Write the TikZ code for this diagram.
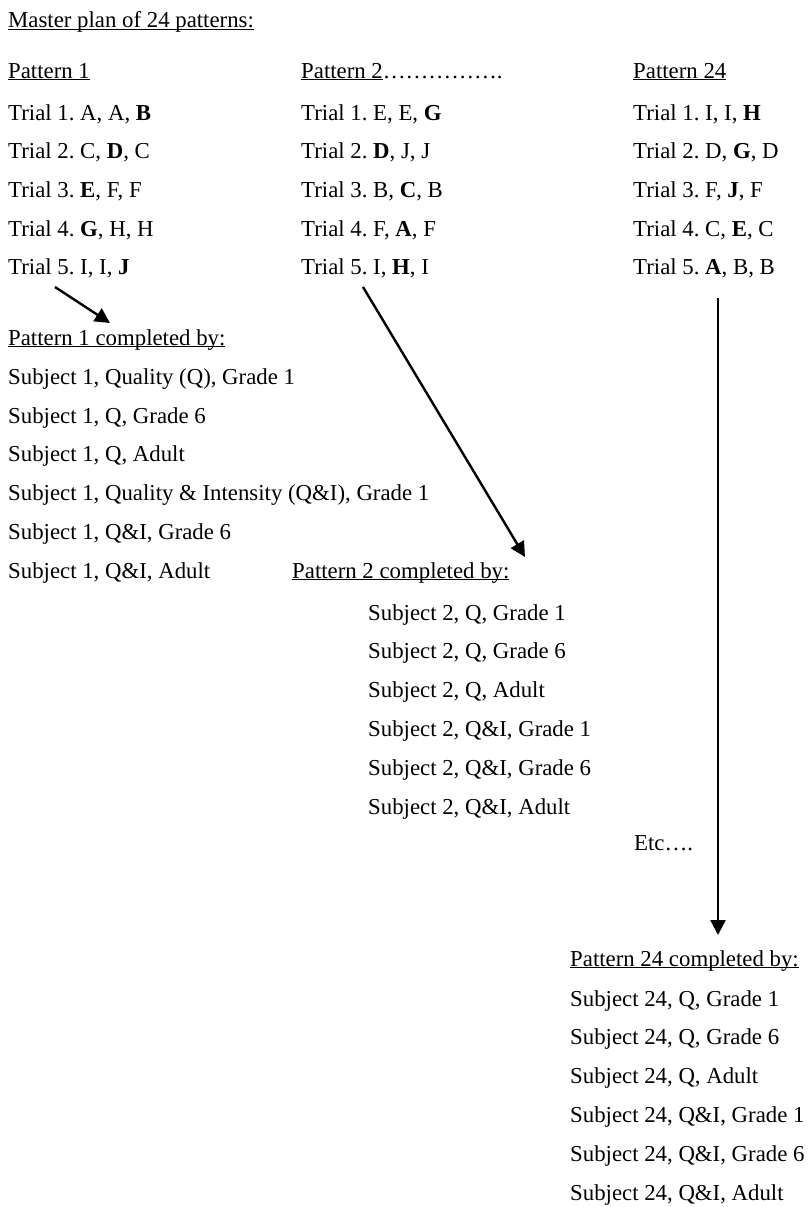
\documentclass[tikz,border=0pt]{standalone}
\usepackage{fontspec}
\setmainfont{Liberation Serif}
\usetikzlibrary{arrows.meta}
\newcommand\myul[1]{\underline{\smash{#1}}}
\frenchspacing
\begin{document}
\begin{tikzpicture}[x=1pt,y=-1pt,
  txt/.style={anchor=base west, inner sep=0pt, font=\fontsize{22.8}{28}\selectfont\frenchspacing},
  arr/.style={line width=2.4pt, -{Triangle[length=15pt,width=15pt]}}]
\useasboundingbox (0,0) rectangle (811,1207);
\node[txt] (master) at (8,28) {\myul{Master plan of 24 patterns:}};
% column 1
\node[txt] (p1) at (8,78) {\myul{Pattern 1}};
\node[txt] (p1t1) at (8,120) {Trial 1. A, A, \textbf{B}};
\node[txt] (p1t2) at (8,158.7) {Trial 2. C, \textbf{D}, C};
\node[txt] (p1t3) at (8,197.4) {Trial 3. \textbf{E}, F, F};
\node[txt] (p1t4) at (8,236.1) {Trial 4. \textbf{G}, H, H};
\node[txt] (p1t5) at (8,274.8) {Trial 5. I, I, \textbf{J}};
% column 2
\node[txt] (p2) at (301,78) {\myul{Pattern 2}…………….};
\node[txt] (p2t1) at (301,120) {Trial 1. E, E, \textbf{G}};
\node[txt] (p2t2) at (301,158.7) {Trial 2. \textbf{D}, J, J};
\node[txt] (p2t3) at (301,197.4) {Trial 3. B, \textbf{C}, B};
\node[txt] (p2t4) at (301,236.1) {Trial 4. F, \textbf{A}, F};
\node[txt] (p2t5) at (301,274.8) {Trial 5. I, \textbf{H}, I};
% column 3
\node[txt] (p24) at (633,78) {\myul{Pattern 24}};
\node[txt] (p24t1) at (633,120) {Trial 1. I, I, \textbf{H}};
\node[txt] (p24t2) at (633,158.7) {Trial 2. D, \textbf{G}, D};
\node[txt] (p24t3) at (633,197.4) {Trial 3. F, \textbf{J}, F};
\node[txt] (p24t4) at (633,236.1) {Trial 4. C, \textbf{E}, C};
\node[txt] (p24t5) at (633,274.8) {Trial 5. \textbf{A}, B, B};
% pattern 1 completed
\node[txt] (c1) at (8,345) {\myul{Pattern 1 completed by:}};
\node[txt] (s1a) at (8,384.5) {Subject 1, Quality (Q), Grade 1};
\node[txt] (s1b) at (8,423.2) {Subject 1, Q, Grade 6};
\node[txt] (s1c) at (8,461.9) {Subject 1, Q, Adult};
\node[txt] (s1d) at (8,500.6) {Subject 1, Quality \& Intensity (Q\&I), Grade 1};
\node[txt] (s1e) at (8,539.3) {Subject 1, Q\&I, Grade 6};
\node[txt] (s1f) at (8,578) {Subject 1, Q\&I, Adult};
% pattern 2 completed
\node[txt] (c2) at (292,578) {\myul{Pattern 2 completed by:}};
\node[txt] (s2a) at (368,620) {Subject 2, Q, Grade 1};
\node[txt] (s2b) at (368,658.8) {Subject 2, Q, Grade 6};
\node[txt] (s2c) at (368,697.6) {Subject 2, Q, Adult};
\node[txt] (s2d) at (368,736.4) {Subject 2, Q\&I, Grade 1};
\node[txt] (s2e) at (368,775.2) {Subject 2, Q\&I, Grade 6};
\node[txt] (s2f) at (368,814) {Subject 2, Q\&I, Adult};
\node[txt] (etc) at (634,850) {Etc….};
% pattern 24 completed
\node[txt] (c24) at (570,966) {\myul{Pattern 24 completed by:}};
\node[txt] (s24a) at (570,1006) {Subject 24, Q, Grade 1};
\node[txt] (s24b) at (570,1044.8) {Subject 24, Q, Grade 6};
\node[txt] (s24c) at (570,1083.6) {Subject 24, Q, Adult};
\node[txt] (s24d) at (570,1122.4) {Subject 24, Q\&I, Grade 1};
\node[txt] (s24e) at (570,1161.2) {Subject 24, Q\&I, Grade 6};
\node[txt] (s24f) at (570,1200) {Subject 24, Q\&I, Adult};
% arrows
\coordinate (a1s) at (55,287);
\coordinate (a1e) at (110,323);
\coordinate (a2s) at (363,287);
\coordinate (a2e) at (525,557);
\coordinate (a3s) at (718,298);
\coordinate (a3e) at (718,935);
\draw[arr] (a1s) -- (a1e);
\draw[arr] (a2s) -- (a2e);
\draw[arr] (a3s) -- (a3e);
\end{tikzpicture}
\end{document}
